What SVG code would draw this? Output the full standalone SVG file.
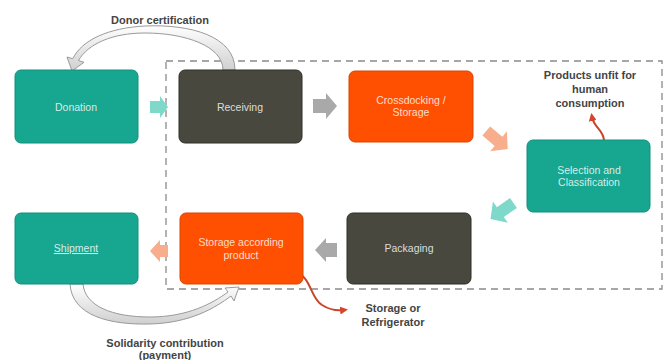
<svg xmlns="http://www.w3.org/2000/svg" width="667" height="360" viewBox="0 0 667 360">
<defs>
<style>
.box{stroke-width:1}
.teal{fill:#17a690;stroke:#139080}
.dark{fill:#48483f;stroke:#2f2f29}
.orange{fill:#fe5000;stroke:#d94400}
.lbl{font-family:"Liberation Sans",Arial,sans-serif;font-size:10.5px;text-anchor:middle;fill:#ffffff;fill-opacity:0.82}
.note{font-family:"Liberation Sans",Arial,sans-serif;font-size:11px;font-weight:bold;text-anchor:middle;fill:#444444}
.curve{fill:url(#g);stroke:#9a9a9a;stroke-width:1}
.red{fill:none;stroke:#c8452a;stroke-width:2;marker-end:url(#rh)}
</style>
<linearGradient id="g" x1="0" y1="0" x2="0" y2="1">
<stop offset="0" stop-color="#ffffff"/>
<stop offset="1" stop-color="#cfcfcf"/>
</linearGradient>
<marker id="rh" viewBox="0 0 10 10" refX="5" refY="5" markerWidth="4" markerHeight="4" orient="auto">
<path d="M0,0 L10,5 L0,10 z" fill="#d8432a"/>
</marker>
</defs>
<rect width="667" height="360" fill="#ffffff"/>

<rect x="166" y="61" width="496" height="228" fill="none" stroke="#8a8a8a" stroke-width="1.3" stroke-dasharray="7,5"/>

<g id="connectors">
<path class="curve" d="M235,70 C235,36 190,24 145,26 C108,28 82,40 72.7,58.7 L67,57 L72,71 L84,62.3 L78.5,60.5 C88,44 112,33 145,33 C185,33 223,46 223,70 Z"/>
<path class="curve" d="M70,284 C72,316 110,325 150,324 C190,323 215,308 231,296 L234,301 L239,287 L225,288 L228,292 C213,303 188,317 150,317 C112,317 85,306 83,284 Z"/>
<polygon points="150,101 160,101 160,96 168,107 160,118 160,113 150,113" fill="#7fd9cb"/>
<polygon points="313,99 326,99 326,93 337,106 326,119 326,113 313,113" fill="#a9a9a9"/>
<polygon points="-14,-6 2,-6 2,-13 14,0 2,13 2,6 -14,6" fill="#f8ae8c" transform="translate(497,140) rotate(40)"/>
<polygon points="-14,-6 2,-6 2,-13 14,0 2,13 2,6 -14,6" fill="#7fd9cb" transform="translate(502,211) rotate(145)"/>
<polygon points="337,243 326,243 326,238 315,250 326,262 326,257 337,257" fill="#a9a9a9"/>
<polygon points="168,245 160,245 160,240 150,251 160,262 160,257 168,257" fill="#f8ae8c"/>
<path class="red" d="M604,141 C604,130 594,128 592,117"/>
<path class="red" d="M296,272 C312,278 310,298 322,305 C330,310 337,311 344,310"/>
</g>

<g id="donation"><rect class="box teal" x="15" y="70" width="123" height="73" rx="6"/><text class="lbl" x="76" y="111">Donation</text></g>
<g id="receiving"><rect class="box dark" x="179" y="70" width="123" height="73" rx="6"/><text class="lbl" x="240" y="111">Receiving</text></g>
<g id="crossdocking"><rect class="box orange" x="349" y="71" width="124" height="71" rx="6"/><text class="lbl" x="411" y="104">Crossdocking /</text><text class="lbl" x="411" y="116">Storage</text></g>
<g id="selection"><rect class="box teal" x="527" y="140" width="123" height="72" rx="6"/><text class="lbl" x="589" y="174">Selection and</text><text class="lbl" x="589" y="186">Classification</text></g>
<g id="packaging"><rect class="box dark" x="347" y="213" width="124" height="71" rx="6"/><text class="lbl" x="409" y="252">Packaging</text></g>
<g id="storage"><rect class="box orange" x="180" y="213" width="123" height="71" rx="6"/><text class="lbl" x="241" y="246">Storage according</text><text class="lbl" x="241" y="259">product</text></g>
<g id="shipment"><rect class="box teal" x="15" y="213" width="123" height="71" rx="6"/><text class="lbl" x="76" y="252" text-decoration="underline">Shipment</text></g>

<g id="labels">
<text class="note" x="160" y="24">Donor certification</text>
<text class="note" x="590" y="79">Products unfit for</text>
<text class="note" x="590" y="93">human</text>
<text class="note" x="590" y="107">consumption</text>
<text class="note" x="393" y="312">Storage or</text>
<text class="note" x="393" y="326">Refrigerator</text>
<text class="note" x="165" y="347">Solidarity contribution</text>
<text class="note" x="165" y="359">(payment)</text>
</g>
</svg>
